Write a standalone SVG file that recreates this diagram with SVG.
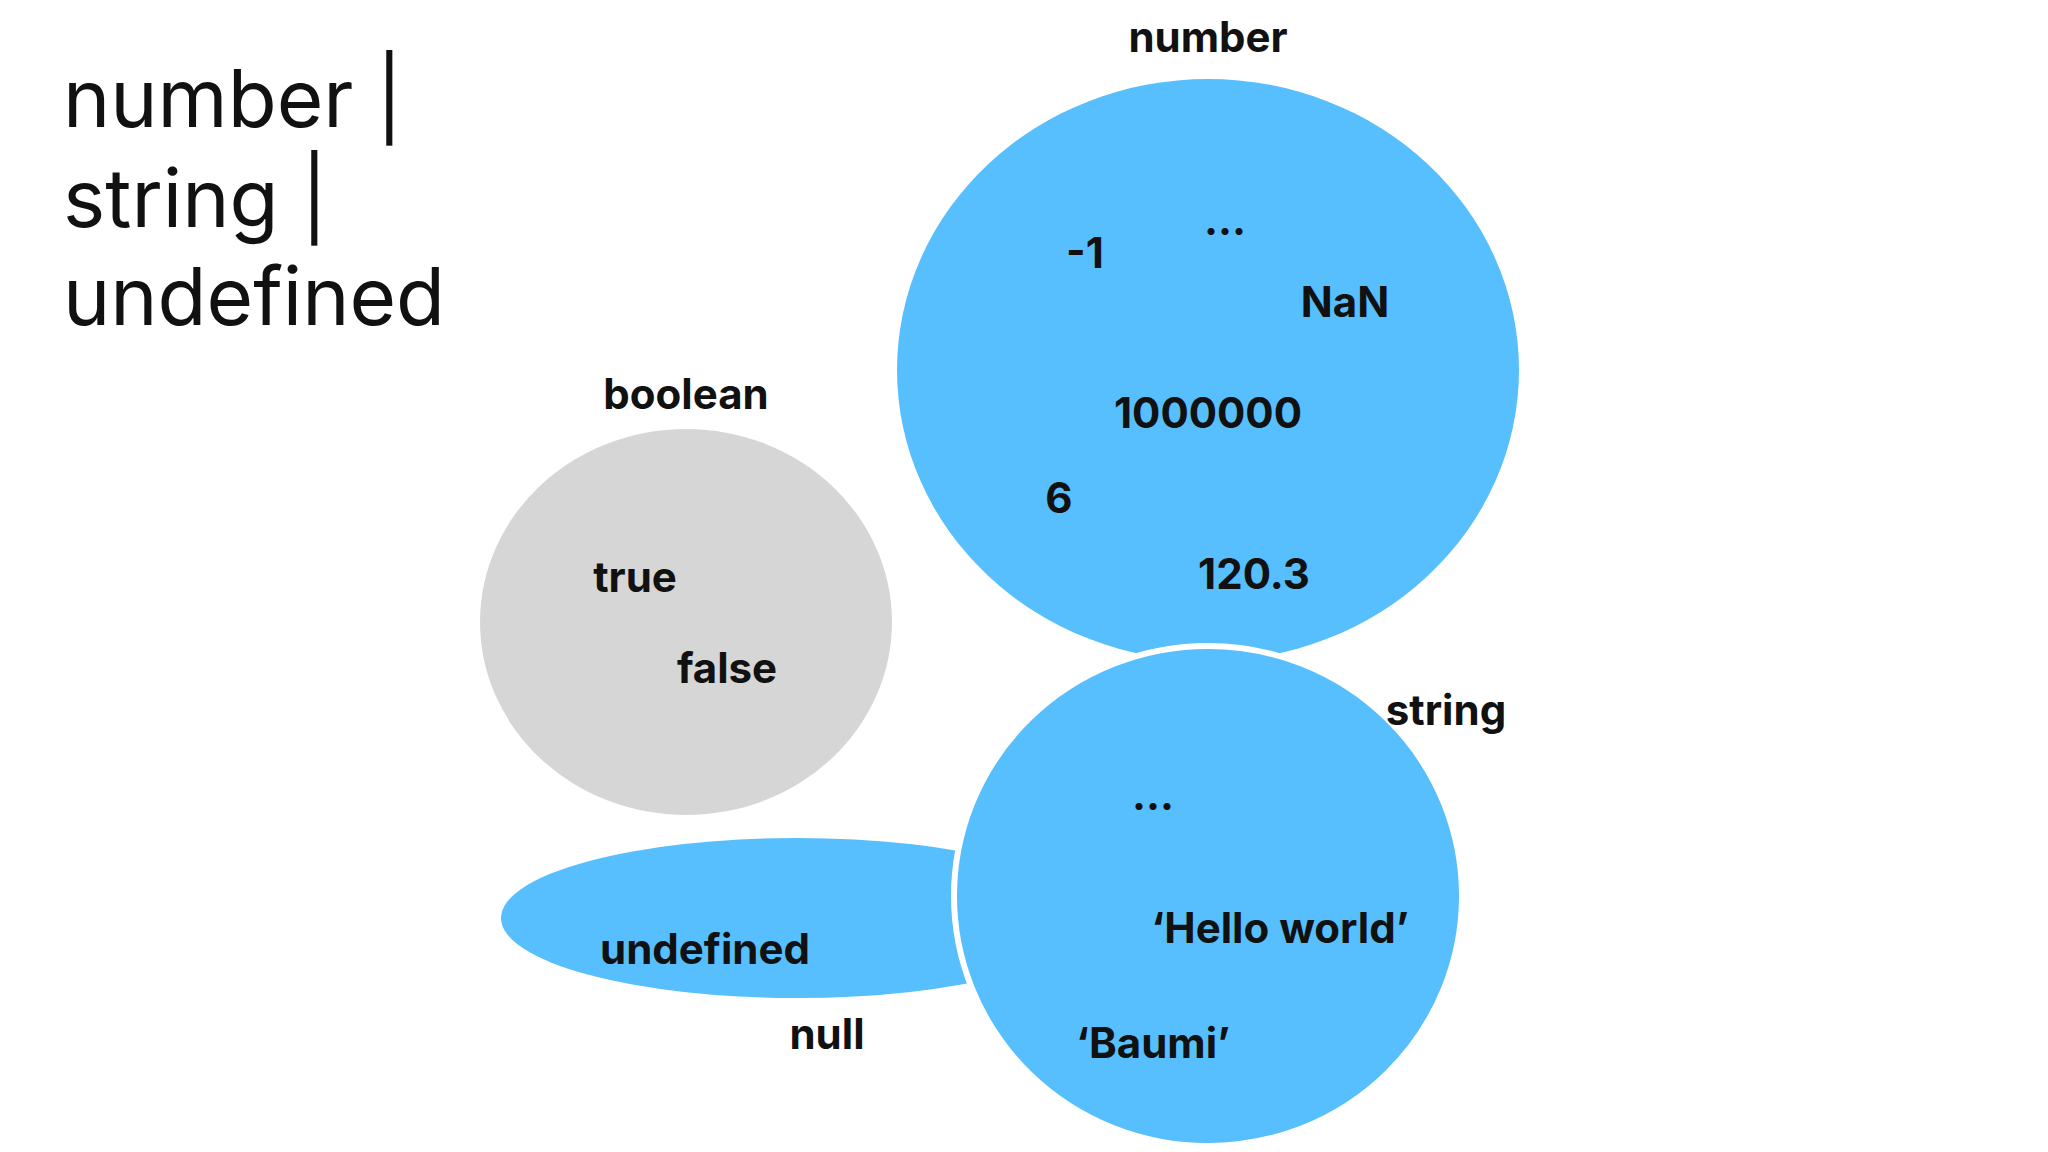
<svg xmlns="http://www.w3.org/2000/svg" width="2048" height="1152" viewBox="0 0 2048 1152">
<style>
.t{font-family:Inter,"Noto Sans",sans-serif;font-size:80px;fill:#111}
.l{font-family:Inter,"Noto Sans",sans-serif;font-size:42px;font-weight:bold;fill:#111;text-anchor:middle}
.b{fill:#57BFFD}
</style>
<rect width="2048" height="1152" fill="#fff"/>
<g id="title">
<text class="t" x="63" y="127">number |</text>
<text class="t" x="63" y="227">string |</text>
<text class="t" x="63" y="325">undefined</text>
</g>
<g id="number">
<ellipse class="b" cx="1208" cy="370" rx="311" ry="291"/>
<text class="l" x="1208" y="52">number</text>
<text class="l" x="1225" y="235">...</text>
<text class="l" x="1085" y="268">-1</text>
<text class="l" x="1345" y="317">NaN</text>
<text class="l" x="1208" y="428">1000000</text>
<text class="l" x="1059" y="513">6</text>
<text class="l" x="1254" y="589">120.3</text>
</g>
<g id="boolean">
<ellipse cx="686" cy="622" rx="206" ry="193" fill="#D6D6D6"/>
<text class="l" x="686" y="409">boolean</text>
<text class="l" x="635" y="592">true</text>
<text class="l" x="727" y="683">false</text>
</g>
<g id="undefined">
<ellipse class="b" cx="797" cy="918" rx="296" ry="80"/>
</g>
<g id="string">
<ellipse class="b" cx="1208" cy="896" rx="254" ry="250" stroke="#fff" stroke-width="6"/>
<text class="l" x="1446" y="725">string</text>
<text class="l" x="1153" y="810">...</text>
<text class="l" x="1280" y="943">‘Hello world’</text>
<text class="l" x="1153" y="1058">‘Baumi’</text>
</g>
<g id="labels">
<text class="l" x="705" y="964">undefined</text>
<text class="l" x="827" y="1049">null</text>
</g>
<g id="connectors"/>
</svg>
